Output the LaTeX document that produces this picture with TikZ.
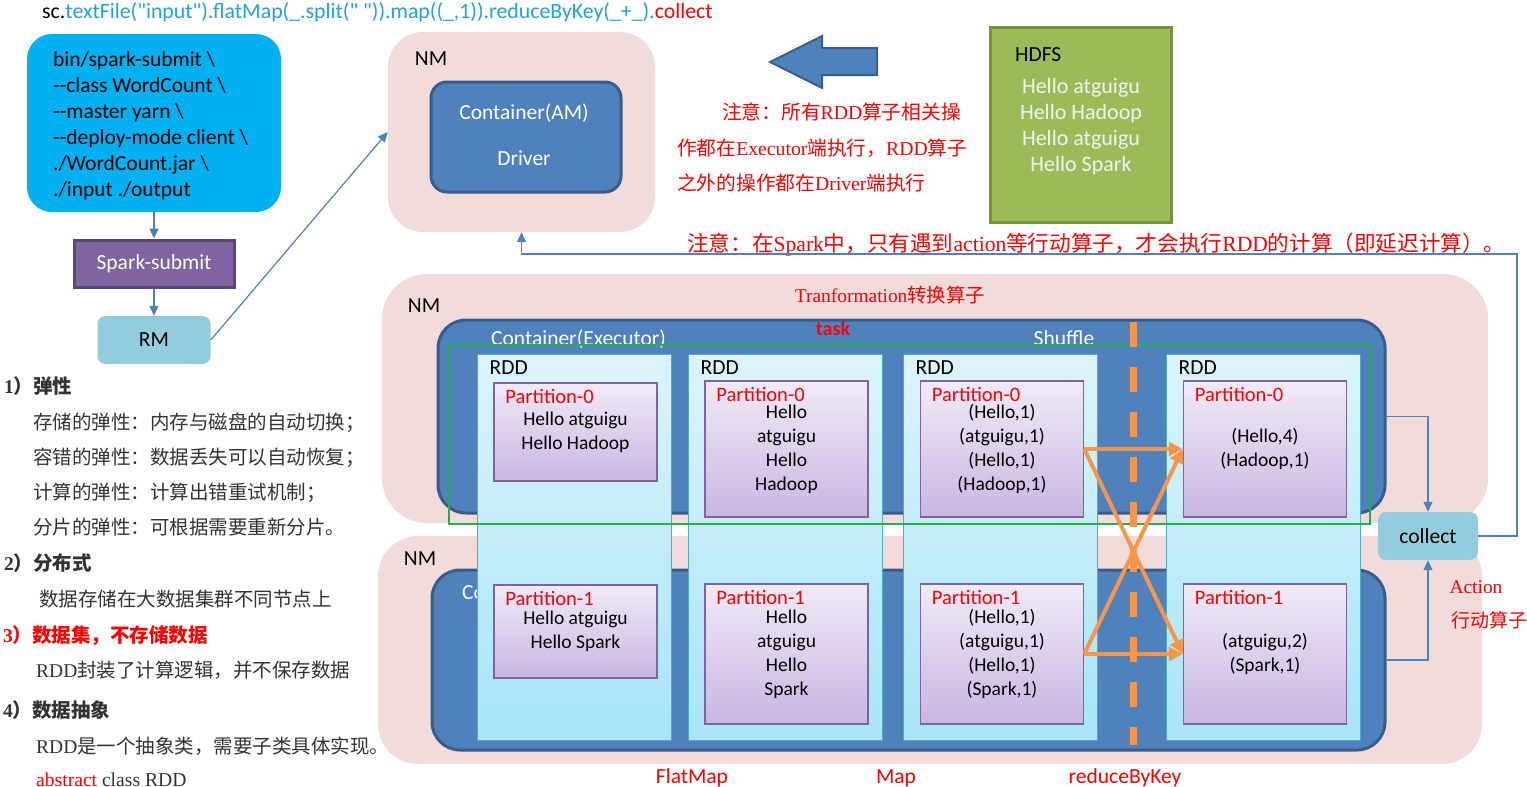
\documentclass[tikz,border=0pt]{standalone}
\usepackage{fontspec}
\setmainfont{Carlito}[Ligatures=TeXOff]
\newfontfamily\cjk{Noto Sans CJK SC}
\newfontfamily\tnr{Liberation Serif}
\usetikzlibrary{arrows.meta,positioning,calc}
\newcommand{\fsz}[2]{\fontsize{#1}{#2}\selectfont}
\newcommand{\en}[1]{{\tnr #1}}
\definecolor{nmpink}{HTML}{F2DCDB}
\definecolor{exblue}{HTML}{4F81BD}
\definecolor{exborder}{HTML}{385D8A}
\definecolor{rddtop}{HTML}{DCF4FB}
\definecolor{rddbot}{HTML}{A7E5F7}
\definecolor{rddborder}{HTML}{4BACC6}
\definecolor{parttop}{HTML}{F0EAF7}
\definecolor{partbot}{HTML}{C9B6E2}
\definecolor{partborder}{HTML}{8064A2}
\definecolor{orangeline}{HTML}{F79646}
\definecolor{stagegreen}{HTML}{22B14C}
\definecolor{cmdblue}{HTML}{00B0F0}
\definecolor{submitborder}{HTML}{5C4776}
\definecolor{rmblue}{HTML}{93CDDD}
\definecolor{hdfsgreen}{HTML}{9BBB59}
\definecolor{hdfsborder}{HTML}{76923C}
\definecolor{hdfstext}{HTML}{F2F2F2}
\definecolor{codeblue}{HTML}{1FA3E0}
\definecolor{txtgray}{HTML}{333333}

\begin{document}
\begin{tikzpicture}[x=1pt, y=-1pt,
                font=\fsz{21.5}{26},
                nm/.style={rectangle, fill=nmpink, inner sep=0pt},
                container/.style={rectangle, fill=exblue, draw=exborder, line width=3pt,
                        inner sep=0pt, rounded corners=28pt},
                rddcol/.style={rectangle, draw=rddborder, line width=1pt, top color=rddtop,
                        bottom color=rddbot, minimum width=194pt, minimum height=386pt, inner sep=0pt},
                part/.style={rectangle, draw=partborder, line width=1.5pt, top color=parttop,
                        bottom color=partbot, minimum width=163pt, align=center, inner sep=0pt,
                        font=\fsz{19.5}{24}},
                ptitle/.style={anchor=west, inner sep=0pt, text=red, font=\fsz{20.5}{24}},
                lbl/.style={anchor=base, inner sep=0pt},
                flow/.style={draw=exblue, line width=1.2pt, -{Triangle[length=10pt,width=9pt]}},
                shuf/.style={draw=orangeline, line width=4pt, -{Triangle[length=14pt,width=14pt]}},
                txt/.style={anchor=base west, inner sep=0pt, text=txtgray, font=\cjk\fsz{19.5}{22}},
                txthead/.style={txt, font=\cjk\bfseries\fsz{19.5}{22}},
                note/.style={anchor=base west, inner sep=0pt, text=red, font=\cjk\fsz{19.7}{24}},
            ]
            \useasboundingbox (0,0) rectangle (1527,787);

            % ── job line ──────────────────────────────────────────
            \node[anchor=base west, inner sep=0pt, font=\fsz{21.8}{26}] (code) at (42,19) {sc.\textcolor{codeblue}{textFile("input").flatMap(\_.split(" ")).map((\_,1)).reduceByKey(\_+\_).}\textcolor{red}{collect}};

            % ── submit chain ──────────────────────────────────────
            \node[rectangle, fill=cmdblue, rounded corners=25pt, minimum width=254pt,
                  minimum height=178pt] (cmd) at (154,123) {};
            \node[anchor=north west, align=left, inner sep=0pt] (cmdtxt) at (53,51)
                {bin/spark-submit \textbackslash\\--class WordCount \textbackslash\\--master yarn \textbackslash\\--deploy-mode client \textbackslash\\./WordCount.jar \textbackslash\\./input ./output};
            \node[rectangle, fill=partborder, draw=submitborder, line width=3pt, minimum width=160pt,
                  minimum height=47pt, text=white] (submit) at (154,263.5) {Spark-submit};
            \node[rectangle, fill=rmblue, rounded corners=8pt, minimum width=113pt,
                  minimum height=48pt] (rm) at (154,340) {RM};
            \draw[flow] (cmd) -- (submit);
            \draw[flow] (submit) -- (rm);

            % ── driver side ───────────────────────────────────────
            \node[nm, rounded corners=35pt, minimum width=267pt, minimum height=200pt] (nmA) at (521.5,132) {};
            \node[lbl] (nmAl) at (431,65) {NM};
            \node[container, rounded corners=16pt, minimum width=190pt, minimum height=110pt] (am) at (526,137) {};
            \node[text=white, align=center, inner sep=0pt, font=\fsz{21.5}{46}] (amtxt) at (524,135) {Container(AM)\\Driver};
            \draw[flow] (rm.east) -- (nmA.west);
            \draw[fill=exblue, draw=exborder, line width=2pt] (770,62) -- (822,36) -- (822,48) -- (877,48)
                -- (877,75) -- (822,75) -- (822,88) -- cycle;
            \node[note] (n1) at (722,119.5) {注意：所有\en{RDD}算子相关操};
            \node[note] (n2) at (677,155) {作都在\en{Executor}端执行，\en{RDD}算子};
            \node[note] (n3) at (677,190) {之外的操作都在\en{Driver}端执行};

            % ── HDFS ──────────────────────────────────────────────
            \node[rectangle, fill=hdfsgreen, draw=hdfsborder, line width=3pt, minimum width=181pt,
                  minimum height=195pt] (hdfs) at (1080.5,124.5) {};
            \node[anchor=base west, inner sep=0pt] (hdfsl) at (1015,61) {HDFS};
            \node[align=center, inner sep=0pt, text=hdfstext, font=\fsz{22}{26}] (hdfsd) at (1081,127)
                {Hello atguigu\\Hello Hadoop\\Hello atguigu\\Hello Spark};
            \node[note, font=\cjk\fsz{21.6}{24}] (n4) at (687,251)
                {注意：在\en{Spark}中，只有遇到\en{action}等行动算子，才会执行\en{RDD}的计算（即延迟计算）。};

            % ── executor nodes ────────────────────────────────────
            \node[nm, rounded corners=45pt, minimum width=1106pt, minimum height=249pt] (nmB) at (935,398.5) {};
            \node[nm, rounded corners=40pt, minimum width=1104pt, minimum height=228pt] (nmC) at (930,650) {};
            \node[lbl] (nmBl) at (424,312) {NM};
            \node[lbl] (nmCl) at (420,565) {NM};
            \node[container, minimum width=947pt, minimum height=193pt] (exB) at (911.5,416.5) {};
            \node[container, minimum width=953pt, minimum height=180pt] (exC) at (908.5,660) {};
            \node[anchor=base west, inner sep=0pt, text=white] (exBl) at (491,345) {Container(Executor)};
            \node[anchor=base west, inner sep=0pt, text=white] (exCl) at (462,599) {Container(Executor)};
            \node[lbl, text=white] (shufl) at (1064,345) {Shuffle};
            \node[lbl, text=red, font=\fsz{19.4}{24}] (trans) at (890,302) {\en{Tranformation}{\cjk 转换算子}};
            \node[lbl, text=red, font=\bfseries\fsz{20}{24}] (task) at (833,335) {task};

            % RDD columns
            \foreach \c/\x in {c1/574, c2/785, c3/1000, c4/1263} {
                \node[rddcol] (\c) at (\x,547) {};
                \node[anchor=west, inner sep=0pt] (l\c) at ([xshift=13pt,yshift=-14pt]\c.north west) {RDD};
            }
            \draw[stagegreen, line width=1.5pt] (449,345) rectangle (1370,524);
            \coordinate (shufTop) at (1133,322);
            \coordinate (shufBot) at (1133,745);
            \draw[orangeline, line width=7pt, dash pattern=on 25pt off 20pt] (shufTop) -- (shufBot);

            % partitions
            \node[part, minimum height=98pt]  (p10) at (575.5,432) {Hello atguigu\\Hello Hadoop};
            \node[part, minimum height=136pt] (p20) at (786.5,449) {Hello\\atguigu\\Hello\\Hadoop};
            \node[part, minimum height=136pt] (p30) at (1002,449) {(Hello,1)\\(atguigu,1)\\(Hello,1)\\(Hadoop,1)};
            \node[part, minimum height=136pt] (p40) at (1265,449) {(Hello,4)\\(Hadoop,1)};
            \node[part, minimum height=93pt]  (p11) at (575.5,631.5) {Hello atguigu\\Hello Spark};
            \node[part, minimum height=140pt] (p21) at (786.5,654) {Hello\\atguigu\\Hello\\Spark};
            \node[part, minimum height=140pt] (p31) at (1002,654) {(Hello,1)\\(atguigu,1)\\(Hello,1)\\(Spark,1)};
            \node[part, minimum height=140pt] (p41) at (1265,654) {(atguigu,2)\\(Spark,1)};
            \foreach \p/\t in {p10/0, p20/0, p30/0, p40/0, p11/1, p21/1, p31/1, p41/1}
                \node[ptitle] (t\p) at ([xshift=12pt,yshift=-14pt]\p.north west) {Partition-\t};

            % shuffle arrows
            \draw[shuf] (p30.east) -- (p40.west);
            \draw[shuf] (p30.east) -- (p41.west);
            \draw[shuf] (p31.east) -- (p41.west);
            \draw[shuf] (p31.east) -- (p40.west);

            % ── action ────────────────────────────────────────────
            \node[rectangle, fill=rmblue, rounded corners=8pt, minimum width=100pt,
                  minimum height=48pt] (collect) at (1428,536) {collect};
            \draw[flow] (exB.east) -| (collect.north);
            \draw[flow] (exC.east) -| (collect.south);
            \coordinate (ret) at (1517,254);
            \draw[flow] (collect.east) -| (ret) -| (nmA.south);
            \node[lbl, text=red, font=\tnr\fsz{19.4}{24}] (act) at (1476,593) {Action};
            \node[lbl, text=red, font=\cjk\fsz{19}{24}] (actc) at (1489,627) {行动算子};

            % ── operator names ────────────────────────────────────
            \node[lbl, text=red] (fm) at (692,783) {FlatMap};
            \node[lbl, text=red] (mp) at (896,783) {Map};
            \node[lbl, text=red] (rbk) at (1125,783) {reduceByKey};

            % ── RDD notes ─────────────────────────────────────────
            \node[txthead] (t1) at (4,393) {\en{\bfseries 1}）弹性};
            \node[txt] (t2) at (33,429) {存储的弹性：内存与磁盘的自动切换；};
            \node[txt] (t3) at (33,464) {容错的弹性：数据丢失可以自动恢复；};
            \node[txt] (t4) at (33,499) {计算的弹性：计算出错重试机制；};
            \node[txt] (t5) at (33,534) {分片的弹性：可根据需要重新分片。};
            \node[txthead] (t6) at (4,570) {\en{\bfseries 2}）分布式};
            \node[txt] (t7) at (39,606) {数据存储在大数据集群不同节点上};
            \node[txthead, text=red] (t8) at (3,642) {\en{\bfseries 3}）数据集，不存储数据};
            \node[txt] (t9) at (36,677) {\en{RDD}封装了计算逻辑，并不保存数据};
            \node[txthead] (t10) at (3,717) {\en{\bfseries 4}）数据抽象};
            \node[txt] (t11) at (36,753) {\en{RDD}是一个抽象类，需要子类具体实现。};
            \node[txt, font=\tnr\fsz{19.6}{22}] (t12) at (36,786) {\textcolor{red}{abstract} class RDD};
        \end{tikzpicture}
\end{document}
